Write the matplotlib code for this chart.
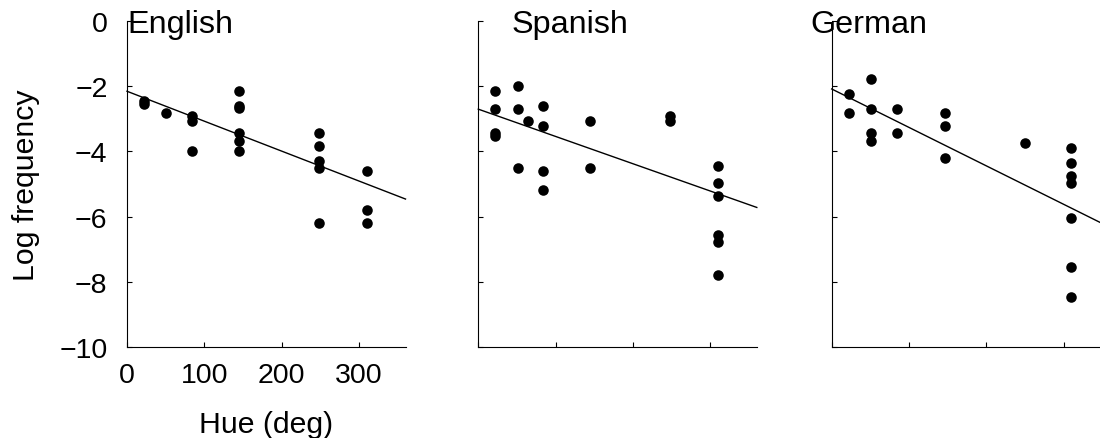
import numpy as np
import matplotlib
matplotlib.use('Agg')
import matplotlib.pyplot as plt

plt.rcParams['font.family'] = ['Liberation Sans', 'DejaVu Sans']

# -------------------------------------------------------------------------
# data
# -------------------------------------------------------------------------
LANGUAGES = ['English', 'Spanish', 'German']

english_hue = [22, 22, 51, 84, 84, 84, 145, 145, 145, 145, 145, 145,
               248, 248, 248, 248, 248, 310, 310, 310]
english_freq = [-2.44, -2.54, -2.83, -2.90, -3.07, -3.98, -2.15, -2.61, -2.67, -3.44, -3.67, -3.98,
                -3.44, -3.83, -4.28, -4.51, -6.19, -4.59, -5.81, -6.19]

spanish_hue = [22, 22, 22, 22, 51, 51, 51, 64, 83, 83, 83, 83,
               145, 145, 248, 248, 310, 310, 310, 310, 310, 310]
spanish_freq = [-2.15, -2.70, -3.44, -3.51, -2.00, -2.70, -4.51, -3.06, -2.60, -3.22, -4.59, -5.19,
                -3.06, -4.51, -2.90, -3.06, -4.44, -4.98, -5.36, -6.56, -6.79, -7.80]

german_hue = [22, 22, 51, 51, 51, 51, 84, 84, 147, 147, 147, 250,
              309, 309, 309, 309, 309, 309, 309]
german_freq = [-2.23, -2.83, -1.77, -2.69, -3.44, -3.67, -2.69, -3.44, -2.83, -3.22, -4.21, -3.74,
               -3.90, -4.36, -4.74, -4.97, -6.04, -7.56, -8.48]

# fitted line: intercept, slope (per degree)
fit_intercept = [-2.15, -2.70, -2.08]
fit_slope = [-0.0092, -0.00839, -0.01182]

HUE_RANGE = [0, 360]
X_TICKS = [0, 100, 200, 300]
Y_TICKS = [0, -2, -4, -6, -8, -10]

# title x position (data units)
TITLE_X = [1, 43, -28]

hues = [english_hue, spanish_hue, german_hue]
freqs = [english_freq, spanish_freq, german_freq]

fig = plt.figure(figsize=(11, 4.39), dpi=100)
lefts = [127 / 1100, 478.3 / 1100, 831.7 / 1100]
width = 278.5 / 1100
bottom = 91.3 / 439
height = 325.4 / 439

for i, lang in enumerate(LANGUAGES):
    ax = fig.add_axes([lefts[i], bottom, width, height])
    ax.plot(hues[i], freqs[i], 'o', color='black', markersize=7.6, markeredgewidth=0, clip_on=False)
    xs = np.array(HUE_RANGE, dtype=float)
    ax.plot(xs, fit_intercept[i] + fit_slope[i] * xs, color='black', linewidth=1.0, clip_on=False)

    ax.set_xlim(HUE_RANGE)
    ax.set_ylim(-10, 0)
    ax.set_xticks(X_TICKS)
    ax.set_yticks(Y_TICKS)
    ax.tick_params(direction='in', length=3.5, width=0.8, labelsize=20.5)
    ax.tick_params(axis='x', pad=11)
    ax.tick_params(axis='y', pad=14)
    for side in ['top', 'right']:
        ax.spines[side].set_visible(False)
    for side in ['left', 'bottom']:
        ax.spines[side].set_linewidth(0.8)

    ax.text(TITLE_X[i], -0.33, lang, fontsize=23.3, va='baseline', ha='left', clip_on=False)

    if i == 0:
        ax.set_xlabel('Hue (deg)', fontsize=21.8, labelpad=16)
        ax.set_ylabel('Log frequency', fontsize=21.8, labelpad=14)
    else:
        ax.set_xticklabels([])
        ax.set_yticklabels([])

plt.savefig('out.png', dpi=100)
plt.close()
